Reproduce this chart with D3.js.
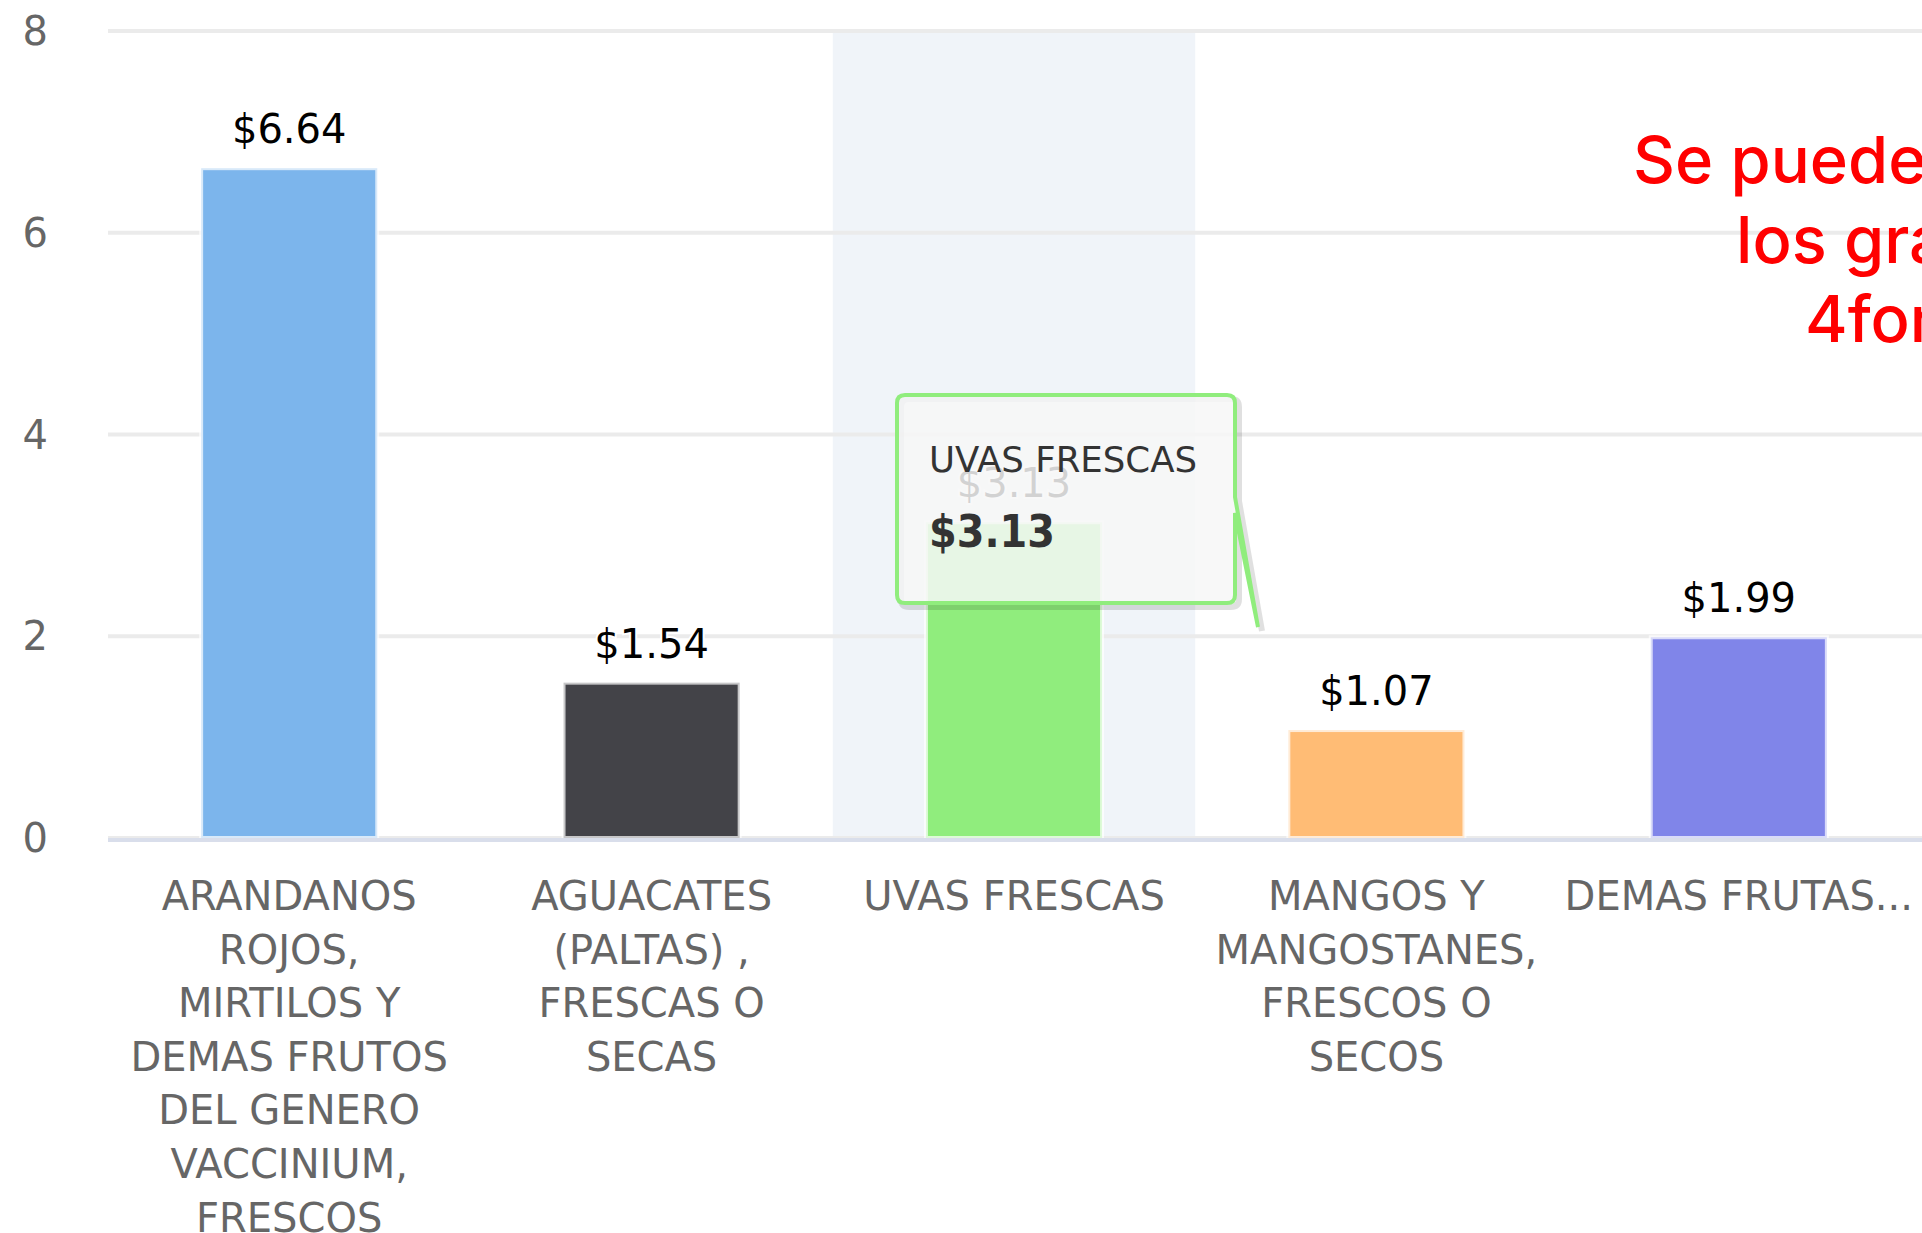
<!DOCTYPE html>
<meta charset="utf-8">
<style>
body {
  margin: 0;
  background: #fff;
}
svg {
  display: block;
}
.grid line {
  stroke: #ebebeb;
  stroke-width: 4px;
}
.y-label {
  font-family: "DejaVu Sans";
  font-size: 40px;
  fill: #666;
}
.x-label {
  font-family: "DejaVu Sans";
  font-size: 40px;
  fill: #666;
}
.value {
  font-family: "DejaVu Sans";
  font-size: 40px;
  fill: #000;
  stroke: #fff;
  stroke-width: 4px;
  paint-order: stroke;
}
.note {
  font-family: Inter;
  font-size: 65px;
  font-weight: 500;
  fill: #ff0000;
}
</style>
<body>
<script src="https://d3js.org/d3.v7.min.js"></script>
<script>
var categoryLines = [
  ["ARANDANOS", "ROJOS,", "MIRTILOS Y", "DEMAS FRUTOS", "DEL GENERO", "VACCINIUM,", "FRESCOS"],
  ["AGUACATES", "(PALTAS) ,", "FRESCAS O", "SECAS"],
  ["UVAS FRESCAS"],
  ["MANGOS Y", "MANGOSTANES,", "FRESCOS O", "SECOS"],
  ["DEMAS FRUTAS..."]
];
var values = [6.64, 1.54, 3.13, 1.07, 1.99];
var colors = ["#7cb5ec", "#434348", "#90ed7d", "#ffbc75", "#8085e9"];
var yTicks = [0, 2, 4, 6, 8];
var hovered = 2;
var noteLines = ["Se pueden ver", "los gráficos", "4formas"];

var width = 1922,
    height = 1233;

var svg = d3.select("body").append("svg")
  .attr("width", width)
  .attr("height", height);

var x = d3.scaleBand()
  .domain(d3.range(values.length))
  .range([108, 1920]);

var y = d3.scaleLinear()
  .domain([0, 8])
  .range([838, 31]);

var barW = x.bandwidth() * 0.486;
var fmt = function(v) { return "$" + d3.format(".2f")(v); };

// hover band
svg.append("rect")
  .attr("x", x(hovered))
  .attr("y", y(8) + 2)
  .attr("width", x.bandwidth())
  .attr("height", y(0) - y(8) - 2)
  .attr("fill", "#f0f4f9");

svg.append("g")
  .attr("class", "grid")
  .selectAll("line")
  .data(yTicks)
  .enter().append("line")
    .attr("x1", 108)
    .attr("x2", width)
    .attr("y1", function(d) { return y(d); })
    .attr("y2", function(d) { return y(d); });

svg.append("g")
  .selectAll("text")
  .data(yTicks)
  .enter().append("text")
    .attr("class", "y-label")
    .attr("x", 48)
    .attr("y", function(d) { return y(d); })
    .attr("text-anchor", "end")
    .attr("dominant-baseline", "central")
    .text(function(d) { return d; });

svg.append("g")
  .selectAll("rect")
  .data(values)
  .enter().append("rect")
    .attr("x", function(d, i) { return x(i) + (x.bandwidth() - barW) / 2; })
    .attr("y", function(d) { return y(d); })
    .attr("width", barW)
    .attr("height", function(d) { return y(0) - y(d); })
    .attr("fill", function(d, i) { return colors[i]; })
    .attr("stroke", "rgba(255,255,255,0.7)")
    .attr("stroke-width", 4);

svg.append("line")
  .attr("x1", 108)
  .attr("x2", width)
  .attr("y1", y(0) + 2)
  .attr("y2", y(0) + 2)
  .attr("stroke", "#d9deeb")
  .attr("stroke-width", 4);

svg.append("g")
  .selectAll("text")
  .data(values)
  .enter().append("text")
    .attr("class", "value")
    .attr("x", function(d, i) { return x(i) + x.bandwidth() / 2; })
    .attr("y", function(d) { return y(d) - 25; })
    .attr("text-anchor", "middle")
    .text(fmt);

var xl = svg.append("g")
  .selectAll("text")
  .data(categoryLines)
  .enter().append("text")
    .attr("class", "x-label")
    .attr("text-anchor", "middle");

xl.selectAll("tspan")
  .data(function(d, i) { return d.map(function(s) { return {s: s, i: i}; }); })
  .enter().append("tspan")
    .attr("x", function(d) { return x(d.i) + x.bandwidth() / 2; })
    .attr("y", function(d, k) { return 910 + k * 53.6; })
    .text(function(d) { return d.s; });

// tooltip
var tx = 897, ty = 395, tw = 338, th = 208;
var ax = 1258, ay = 627;
var tipPath = "M" + (tx + 8) + "," + ty +
  "H" + (tx + tw - 8) + "Q" + (tx + tw) + "," + ty + " " + (tx + tw) + "," + (ty + 8) +
  "V" + (ty + 102) + "L" + ax + "," + ay + "L" + (tx + tw) + "," + (ty + 118) +
  "V" + (ty + th - 8) + "Q" + (tx + tw) + "," + (ty + th) + " " + (tx + tw - 8) + "," + (ty + th) +
  "H" + (tx + 8) + "Q" + tx + "," + (ty + th) + " " + tx + "," + (ty + th - 8) +
  "V" + (ty + 8) + "Q" + tx + "," + ty + " " + (tx + 8) + "," + ty + "Z";

svg.append("path")
  .attr("d", tipPath)
  .attr("transform", "translate(4,4)")
  .attr("fill", "none")
  .attr("stroke", "rgba(0,0,0,0.12)")
  .attr("stroke-width", 6);

svg.append("path")
  .attr("d", tipPath)
  .attr("fill", "rgba(247,247,247,0.85)")
  .attr("stroke", colors[hovered])
  .attr("stroke-width", 4);

svg.append("text")
  .attr("x", 929)
  .attr("y", 472)
  .attr("font-family", "DejaVu Sans")
  .attr("font-size", 36)
  .attr("fill", "#333")
  .attr("textLength", 268)
  .attr("lengthAdjust", "spacingAndGlyphs")
  .text(categoryLines[hovered].join(" "));

svg.append("text")
  .attr("x", 929)
  .attr("y", 547)
  .attr("font-family", "DejaVu Sans")
  .attr("font-size", 44)
  .attr("font-weight", "bold")
  .attr("fill", "#333")
  .attr("textLength", 126)
  .attr("lengthAdjust", "spacingAndGlyphs")
  .text(fmt(values[hovered]));

// red note, cut at the right edge
var noteX = [1633, 1736, 1805];
svg.append("g")
  .selectAll("text")
  .data(noteLines)
  .enter().append("text")
    .attr("class", "note")
    .attr("x", function(d, i) { return noteX[i]; })
    .attr("y", function(d, i) { return 183 + i * 79.5; })
    .text(function(d) { return d; });
</script>
